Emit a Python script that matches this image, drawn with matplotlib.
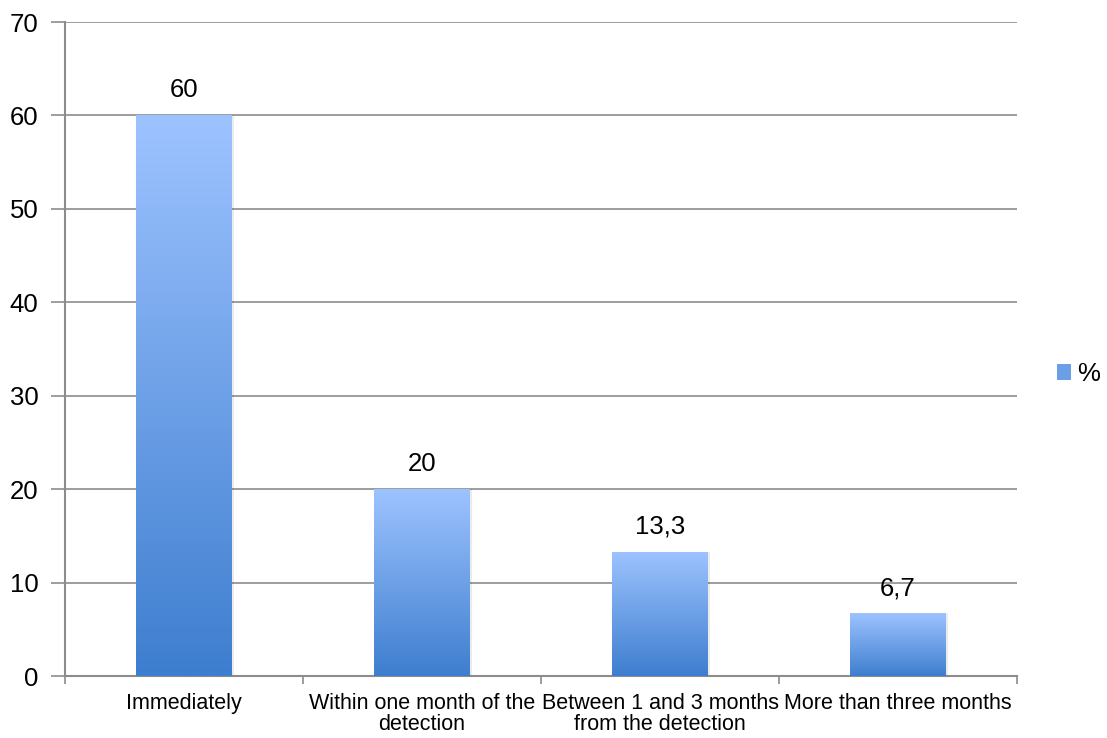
import numpy as np
import matplotlib
matplotlib.use("Agg")
import matplotlib.pyplot as plt
from matplotlib.colors import LinearSegmentedColormap
from matplotlib.patches import Rectangle

categories = ["Immediately", "Within one month of the\ndetection",
              "Between 1 and 3 months\nfrom the detection", "More than three months"]
values = [60, 20, 13.3, 6.7]
value_labels = ["60", "20", "13,3", "6,7"]
series_name = "%"

plt.rcParams['font.family'] = ['Liberation Sans', 'DejaVu Sans']

fig = plt.figure(figsize=(11.07, 7.38), dpi=100)
ax = fig.add_axes([65/1107, 62/738, (1017-65)/1107, (676-22)/738])

cmap = LinearSegmentedColormap.from_list("g", ["#3E7ECF", "#9DC3FF"])
grad = np.linspace(0, 1, 256).reshape(-1, 1)

x = np.arange(len(categories))
width = 0.4
ax.set_xlim(-0.5, len(categories) - 0.5)
ax.set_ylim(0, 70)

for xi, v, lab in zip(x, values, value_labels):
    sh = Rectangle((xi - width/2 + 0.012, 0), width, v, facecolor="#000000",
                   alpha=0.08, edgecolor="none", zorder=2)
    ax.add_patch(sh)
    im = ax.imshow(grad, cmap=cmap, aspect="auto", origin="lower",
                   extent=(xi - width/2, xi + width/2, 0, v), zorder=3)
    rect = Rectangle((xi - width/2, 0), width, v, facecolor="none", edgecolor="none")
    ax.add_patch(rect)
    im.set_clip_path(rect)
    ax.text(xi, v + 1.4, lab, ha="center", va="bottom", fontsize=18.5, color="#000000", zorder=4)

ax.set_xlim(-0.5, len(categories) - 0.5)
ax.set_ylim(0, 70)
ax.set_yticks(np.arange(0, 71, 10))
ax.yaxis.grid(True, color="#8C8C8C", linewidth=1.2)
ax.set_axisbelow(True)
ax.tick_params(axis="y", labelsize=18.5, length=10, width=1.2, color="#8C8C8C", pad=9)

ax.set_xticks(x)
ax.set_xticklabels(categories, fontsize=15.5, linespacing=1.05)
ax.tick_params(axis="x", length=0, pad=12)
ax.set_xticks(np.arange(-0.5, len(categories), 1), minor=True)
ax.tick_params(axis="x", which="minor", length=6, width=1.2, color="#8C8C8C")

for s in ["top", "right"]:
    ax.spines[s].set_visible(False)
for s in ["left", "bottom"]:
    ax.spines[s].set_color("#8C8C8C")
    ax.spines[s].set_linewidth(1.5)

handle = Rectangle((0, 0), 1, 1, facecolor="#6A9FE6", edgecolor="none")
fig.legend([handle], [series_name], loc="center left", bbox_to_anchor=(1057/1107, 1 - 374/738),
           frameon=False, fontsize=18.5, handlelength=0.55, handleheight=0.55,
           handletextpad=0.25, borderpad=0, borderaxespad=0)

fig.savefig("out.png", dpi=100)
